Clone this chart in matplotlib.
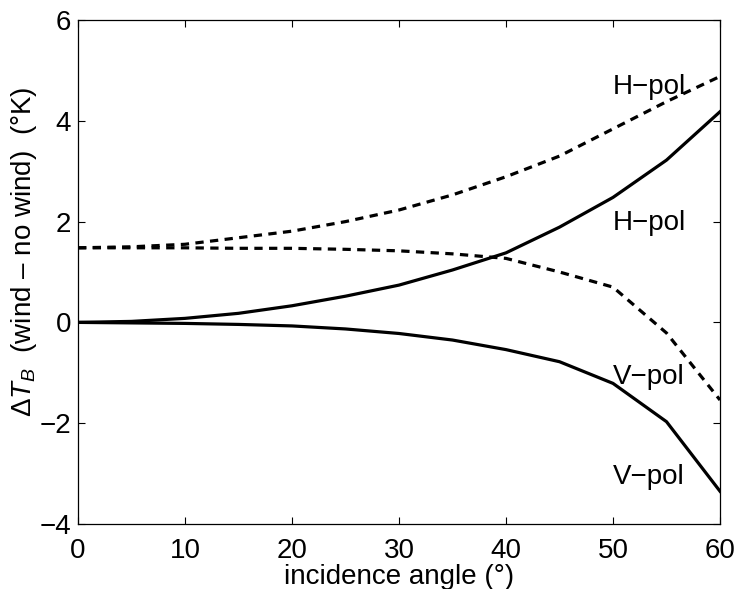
import matplotlib
matplotlib.use('Agg')
import matplotlib.pyplot as plt

# incidence angle (deg) and brightness temperature differences (K)
angle = [0, 5, 10, 15, 20, 25, 30, 35, 40, 45, 50, 55, 60]
h_pol_solid = [0, 0.02, 0.08, 0.18, 0.33, 0.52, 0.74, 1.04, 1.38, 1.89, 2.48, 3.22, 4.18]
v_pol_solid = [0, -0.01, -0.02, -0.04, -0.07, -0.13, -0.22, -0.35, -0.54, -0.78, -1.21, -1.97, -3.35]
h_pol_dash = [1.48, 1.50, 1.55, 1.68, 1.81, 2.00, 2.23, 2.53, 2.89, 3.30, 3.84, 4.38, 4.88]
v_pol_dash = [1.48, 1.48, 1.48, 1.47, 1.47, 1.45, 1.42, 1.36, 1.27, 1.00, 0.70, -0.21, -1.54]

labels = ['H\u2212pol', 'H\u2212pol', 'V\u2212pol', 'V\u2212pol']
label_x = [50.0, 50.0, 50.0, 50.0]
label_y = [4.67, 1.97, -1.08, -3.07]

plt.rcParams['font.family'] = ['Liberation Sans', 'DejaVu Sans']
plt.rcParams['mathtext.fontset'] = 'custom'
plt.rcParams['mathtext.rm'] = 'Liberation Sans'
plt.rcParams['mathtext.it'] = 'Liberation Sans:italic'
plt.rcParams['mathtext.bf'] = 'Liberation Sans:bold'

fig = plt.figure(figsize=(7.38, 5.89), dpi=100)
ax = fig.add_axes([78 / 738, 1 - 524 / 589, 642 / 738, 504 / 589])

lw = 2.3
ax.plot(angle, h_pol_solid, color='black', linewidth=lw)
ax.plot(angle, v_pol_solid, color='black', linewidth=lw)
ax.plot(angle, h_pol_dash, color='black', linewidth=lw, linestyle=(0, (2.6, 2.0)))
ax.plot(angle, v_pol_dash, color='black', linewidth=lw, linestyle=(0, (2.6, 2.0)))

for txt, x, y in zip(labels, label_x, label_y):
    ax.text(x, y, txt, fontsize=20, ha='left', va='center')

ax.set_xlim(0, 60)
ax.set_ylim(-4, 6)
ax.set_xticks(range(0, 61, 10))
ax.set_yticks(range(-4, 7, 2))
ax.set_yticklabels([f'{v}'.replace('-', '\u2212') for v in range(-4, 7, 2)])
ax.tick_params(direction='in', length=5, width=0.8, labelsize=20,
               top=True, right=True)
ax.tick_params(axis='y', pad=5)
ax.tick_params(axis='x', pad=10)
for s in ax.spines.values():
    s.set_linewidth(0.9)

ax.set_xlabel('incidence angle (\u00b0)', fontsize=20, labelpad=0)
ax.set_ylabel('$\\Delta T_B$  (wind \u2013 no wind)  (\u00b0K)', fontsize=20)
ax.yaxis.set_label_coords(-0.061, 0.54)

fig.savefig('out.png', dpi=100)
plt.close(fig)
